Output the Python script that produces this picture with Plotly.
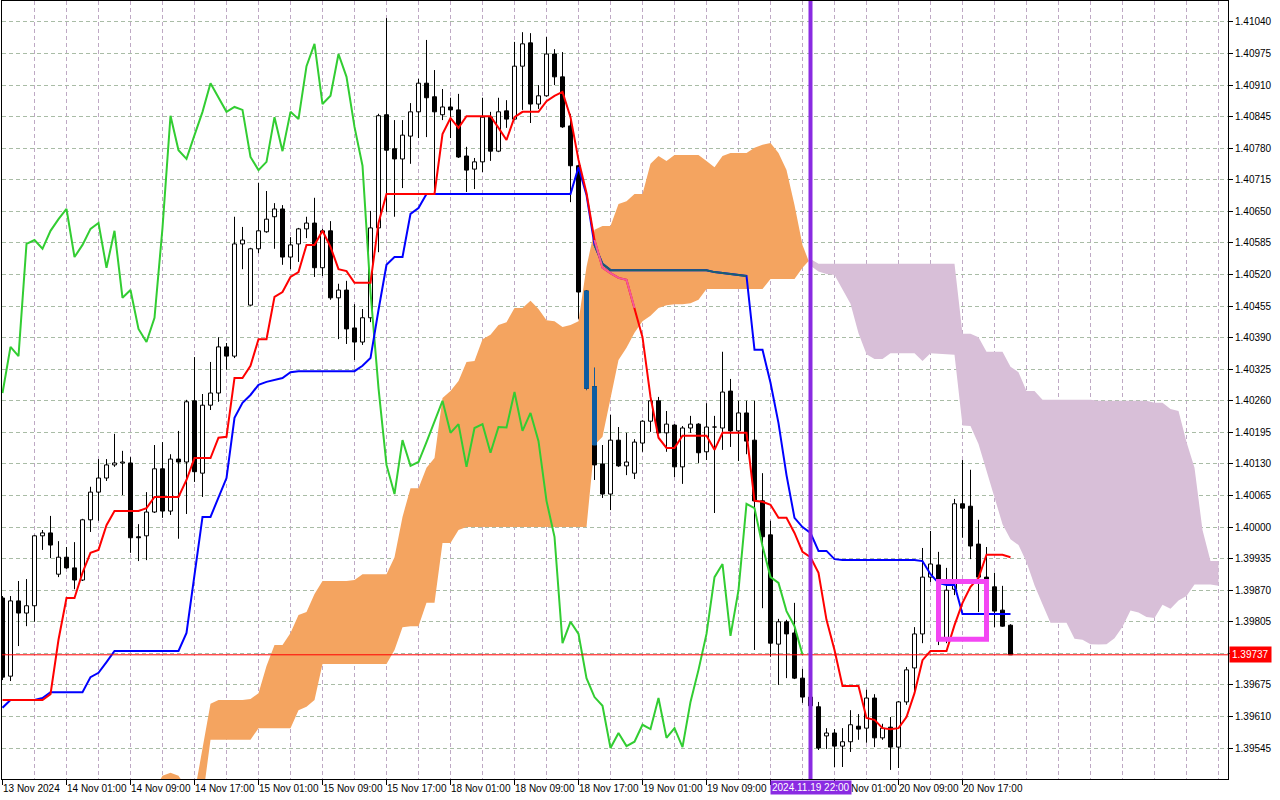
import plotly.graph_objects as go

# ─────────────────────────────────────────────
# DATA  (H1 bars, bar 0 = 13 Nov 2024 17:00)
# ─────────────────────────────────────────────
opens = [
    1.39854, 1.39693, 1.39848, 1.39823, 1.39838, 1.39982, 1.39988, 1.39903, 1.39938, 1.39916,
    1.39891, 1.40015, 1.40072, 1.40101, 1.40128, 1.40132, 1.40132, 1.39980, 1.39982, 1.40031,
    1.40120, 1.40033, 1.40140, 1.40134, 1.40260, 1.40111, 1.40251, 1.40276, 1.40371, 1.40352,
    1.40583, 1.40457, 1.40573, 1.40608, 1.40639, 1.40655, 1.40556, 1.40583, 1.40614, 1.40626,
    1.40534, 1.40610, 1.40472, 1.40488, 1.40410, 1.40381, 1.40431, 1.40616, 1.40849, 1.40779,
    1.40758, 1.40805, 1.40855, 1.40914, 1.40886, 1.40849, 1.40865, 1.40859, 1.40764, 1.40737,
    1.40752, 1.40844, 1.40774, 1.40857, 1.40840, 1.40949, 1.40997, 1.40871, 1.40888, 1.40974,
    1.40927, 1.40826, 1.40744, 1.40486, 1.40289, 1.40130, 1.40068, 1.40179, 1.40126, 1.40111,
    1.40173, 1.40218, 1.40260, 1.40194, 1.40210, 1.40124, 1.40204, 1.40212, 1.40155, 1.40206,
    1.40204, 1.40280, 1.40198, 1.40235, 1.40179, 1.40054, 1.39984, 1.39759, 1.39805, 1.39782,
    1.39689, 1.39650, 1.39630, 1.39570, 1.39576, 1.39549, 1.39558, 1.39590, 1.39586, 1.39648,
    1.39566, 1.39588, 1.39547, 1.39640, 1.39710, 1.39780, 1.39897, 1.39922, 1.39772, 1.39872,
    1.40048, 1.40043, 1.39965, 1.39897, 1.39877, 1.39829, 1.39798,
]
highs = [
    1.39858, 1.39858, 1.39889, 1.39893, 1.39984, 1.39994, 1.40023, 1.39971, 1.39959, 1.39969,
    1.40017, 1.40083, 1.40140, 1.40140, 1.40192, 1.40157, 1.40144, 1.40006, 1.40072, 1.40169,
    1.40175, 1.40150, 1.40198, 1.40262, 1.40350, 1.40274, 1.40340, 1.40391, 1.40379, 1.40639,
    1.40618, 1.40575, 1.40709, 1.40692, 1.40667, 1.40663, 1.40597, 1.40616, 1.40639, 1.40678,
    1.40614, 1.40630, 1.40501, 1.40507, 1.40459, 1.40449, 1.40651, 1.40851, 1.41048, 1.40838,
    1.40838, 1.40873, 1.40923, 1.41003, 1.40941, 1.40902, 1.40884, 1.40892, 1.40783, 1.40760,
    1.40884, 1.40855, 1.40884, 1.40879, 1.40999, 1.41019, 1.41017, 1.40910, 1.41009, 1.40984,
    1.40978, 1.40851, 1.40746, 1.40488, 1.40328, 1.40169, 1.40231, 1.40206, 1.40194, 1.40181,
    1.40220, 1.40268, 1.40268, 1.40239, 1.40212, 1.40208, 1.40229, 1.40214, 1.40255, 1.40229,
    1.40361, 1.40305, 1.40260, 1.40260, 1.40260, 1.40111, 1.40013, 1.39811, 1.39809, 1.39844,
    1.39708, 1.39665, 1.39640, 1.39586, 1.39584, 1.39586, 1.39623, 1.39615, 1.39665, 1.39656,
    1.39595, 1.39609, 1.39642, 1.39712, 1.39794, 1.39957, 1.39992, 1.39949, 1.39916, 1.40058,
    1.40138, 1.40118, 1.40015, 1.39959, 1.39906, 1.39879, 1.39800,
]
lows = [
    1.39685, 1.39683, 1.39755, 1.39796, 1.39805, 1.39953, 1.39936, 1.39897, 1.39914, 1.39872,
    1.39889, 1.39990, 1.40013, 1.40095, 1.40124, 1.40066, 1.39947, 1.39930, 1.39932, 1.40029,
    1.40019, 1.40025, 1.39976, 1.40027, 1.40093, 1.40062, 1.40241, 1.40258, 1.40324, 1.40348,
    1.40531, 1.40455, 1.40564, 1.40606, 1.40573, 1.40540, 1.40531, 1.40546, 1.40595, 1.40515,
    1.40517, 1.40468, 1.40387, 1.40377, 1.40344, 1.40375, 1.40422, 1.40566, 1.40649, 1.40639,
    1.40698, 1.40748, 1.40801, 1.40803, 1.40688, 1.40838, 1.40801, 1.40760, 1.40690, 1.40696,
    1.40731, 1.40754, 1.40772, 1.40822, 1.40838, 1.40859, 1.40832, 1.40861, 1.40886, 1.40910,
    1.40822, 1.40669, 1.40429, 1.40282, 1.40097, 1.40060, 1.40035, 1.40124, 1.40107, 1.40099,
    1.40155, 1.40196, 1.40192, 1.40155, 1.40103, 1.40089, 1.40194, 1.40132, 1.40138, 1.40029,
    1.40159, 1.40165, 1.40136, 1.40150, 1.39747, 1.39833, 1.39733, 1.39675, 1.39689, 1.39687,
    1.39638, 1.39619, 1.39541, 1.39543, 1.39506, 1.39506, 1.39537, 1.39562, 1.39556, 1.39547,
    1.39562, 1.39500, 1.39504, 1.39634, 1.39658, 1.39761, 1.39887, 1.39757, 1.39761, 1.39860,
    1.39978, 1.39934, 1.39825, 1.39813, 1.39794, 1.39795, 1.39737,
]
closes = [
    1.39691, 1.39848, 1.39823, 1.39838, 1.39982, 1.39988, 1.39963, 1.39938, 1.39916, 1.39891,
    1.40015, 1.40072, 1.40101, 1.40128, 1.40132, 1.40134, 1.39978, 1.39978, 1.40031, 1.40120,
    1.40033, 1.40140, 1.40134, 1.40258, 1.40114, 1.40251, 1.40276, 1.40371, 1.40352, 1.40583,
    1.40591, 1.40573, 1.40610, 1.40634, 1.40655, 1.40556, 1.40581, 1.40614, 1.40626, 1.40534,
    1.40610, 1.40472, 1.40488, 1.40408, 1.40381, 1.40431, 1.40616, 1.40847, 1.40776, 1.40758,
    1.40807, 1.40855, 1.40914, 1.40884, 1.40855, 1.40865, 1.40859, 1.40762, 1.40735, 1.40752,
    1.40844, 1.40774, 1.40855, 1.40840, 1.40949, 1.40995, 1.40871, 1.40888, 1.40974, 1.40927,
    1.40824, 1.40744, 1.40484, 1.40286, 1.40128, 1.40068, 1.40179, 1.40126, 1.40134, 1.40175,
    1.40218, 1.40260, 1.40194, 1.40212, 1.40124, 1.40204, 1.40212, 1.40153, 1.40206, 1.40205,
    1.40278, 1.40198, 1.40235, 1.40177, 1.40054, 1.39980, 1.39761, 1.39805, 1.39780, 1.39689,
    1.39650, 1.39632, 1.39545, 1.39576, 1.39549, 1.39558, 1.39593, 1.39584, 1.39648, 1.39566,
    1.39586, 1.39547, 1.39640, 1.39706, 1.39780, 1.39897, 1.39924, 1.39776, 1.39870, 1.40048,
    1.40039, 1.39961, 1.39897, 1.39885, 1.39827, 1.39796, 1.39737,
]

# Tenkan-sen (red) and Kijun-sen (blue), one value per bar
tenkan = [
    1.39644, 1.39644, 1.39644, 1.39644, 1.39644, 1.39644, 1.39656, 1.39768, 1.39854, 1.39854,
    1.39906, 1.39947, 1.39953, 1.40004, 1.40033, 1.40033, 1.40033, 1.40033, 1.40039, 1.40062,
    1.40062, 1.40062, 1.40062, 1.40097, 1.40142, 1.40142, 1.40142, 1.40184, 1.40186, 1.40307,
    1.40307, 1.40332, 1.40387, 1.40387, 1.40474, 1.40484, 1.40515, 1.40525, 1.40581, 1.40581,
    1.40610, 1.40577, 1.40531, 1.40527, 1.40503, 1.40503, 1.40503, 1.40626, 1.40686, 1.40686,
    1.40686, 1.40686, 1.40686, 1.40686, 1.40686, 1.40809, 1.40842, 1.40822, 1.40846, 1.40846,
    1.40846, 1.40846, 1.40822, 1.40797, 1.40844, 1.40855, 1.40855, 1.40855, 1.40877, 1.40888,
    1.40896, 1.40844, 1.40756, 1.40688, 1.40591, 1.40534, 1.40523, 1.40513, 1.40509, 1.40451,
    1.40391, 1.40268, 1.40184, 1.40163, 1.40163, 1.40188, 1.40188, 1.40188, 1.40188, 1.40159,
    1.40194, 1.40194, 1.40194, 1.40194, 1.40054, 1.40052, 1.40046, 1.40019, 1.40019, 1.39988,
    1.39949, 1.39938, 1.39906, 1.39809, 1.39747, 1.39673, 1.39673, 1.39673, 1.39607, 1.39603,
    1.39586, 1.39584, 1.39586, 1.39609, 1.39658, 1.39726, 1.39745, 1.39745, 1.39745, 1.39798,
    1.39844, 1.39877, 1.39895, 1.39943, 1.39943, 1.39943, 1.39938,
]
kijun = [
    1.39628, 1.39644, 1.39644, 1.39644, 1.39644, 1.39648, 1.39660, 1.39660, 1.39660, 1.39660,
    1.39660, 1.39691, 1.39700, 1.39722, 1.39745, 1.39745, 1.39745, 1.39745, 1.39745, 1.39745,
    1.39745, 1.39745, 1.39745, 1.39782, 1.39901, 1.40021, 1.40021, 1.40062, 1.40101, 1.40225,
    1.40256, 1.40272, 1.40293, 1.40299, 1.40303, 1.40307, 1.40319, 1.40321, 1.40321, 1.40321,
    1.40321, 1.40321, 1.40321, 1.40321, 1.40321, 1.40332, 1.40348, 1.40447, 1.40540, 1.40556,
    1.40556, 1.40645, 1.40657, 1.40686, 1.40686, 1.40686, 1.40686, 1.40686, 1.40686, 1.40686,
    1.40686, 1.40686, 1.40686, 1.40686, 1.40686, 1.40686, 1.40686, 1.40686, 1.40686, 1.40686,
    1.40686, 1.40686, 1.40741, 1.40684, 1.40581, 1.40542, 1.40529, 1.40529, 1.40529, 1.40529,
    1.40529, 1.40529, 1.40529, 1.40529, 1.40529, 1.40529, 1.40529, 1.40529, 1.40529, 1.40525,
    1.40523, 1.40521, 1.40519, 1.40517, 1.40365, 1.40365, 1.40297, 1.40214, 1.40107, 1.40019,
    1.40000, 1.39988, 1.39951, 1.39951, 1.39934, 1.39932, 1.39932, 1.39932, 1.39932, 1.39932,
    1.39932, 1.39932, 1.39932, 1.39932, 1.39932, 1.39930, 1.39903, 1.39885, 1.39881, 1.39881,
    1.39821, 1.39821, 1.39821, 1.39821, 1.39821, 1.39821, 1.39821,
]

# Senkou span A / B, drawn from bar 18 up to bar 152 (26 bars ahead)
cloud_start = 18
span_a = [
    1.39438, 1.39459, 1.39488, 1.39494, 1.39488, 1.39463, 1.39452, 1.39545, 1.39636, 1.39644,
    1.39644, 1.39644, 1.39644, 1.39646, 1.39658, 1.39714, 1.39757, 1.39757, 1.39782, 1.39819,
    1.39825, 1.39862, 1.39889, 1.39889, 1.39889, 1.39889, 1.39891, 1.39903, 1.39903, 1.39903,
    1.39903, 1.39938, 1.40021, 1.40080, 1.40080, 1.40122, 1.40142, 1.40266, 1.40280, 1.40301,
    1.40340, 1.40342, 1.40387, 1.40396, 1.40416, 1.40422, 1.40451, 1.40451, 1.40466, 1.40449,
    1.40426, 1.40424, 1.40412, 1.40416, 1.40424, 1.40536, 1.40612, 1.40620, 1.40620, 1.40665,
    1.40671, 1.40686, 1.40686, 1.40748, 1.40764, 1.40754, 1.40766, 1.40766, 1.40766, 1.40766,
    1.40754, 1.40741, 1.40764, 1.40770, 1.40770, 1.40770, 1.40781, 1.40787, 1.40791, 1.40770,
    1.40735, 1.40663, 1.40581, 1.40538, 1.40526, 1.40521, 1.40519, 1.40491, 1.40460, 1.40399,
    1.40356, 1.40346, 1.40346, 1.40358, 1.40358, 1.40358, 1.40358, 1.40342, 1.40358, 1.40357,
    1.40356, 1.40355, 1.40209, 1.40208, 1.40171, 1.40116, 1.40063, 1.40006, 1.39975, 1.39963,
    1.39928, 1.39880, 1.39841, 1.39803, 1.39803, 1.39803, 1.39770, 1.39768, 1.39759, 1.39758,
    1.39759, 1.39771, 1.39795, 1.39828, 1.39824, 1.39815, 1.39813, 1.39840, 1.39832, 1.39849,
    1.39858, 1.39882, 1.39882, 1.39882, 1.39879,
]
span_b = [
    1.39418, 1.39418, 1.39418, 1.39418, 1.39418, 1.39418, 1.39418, 1.39438, 1.39562, 1.39562,
    1.39562, 1.39562, 1.39562, 1.39562, 1.39586, 1.39586, 1.39586, 1.39586, 1.39586, 1.39623,
    1.39630, 1.39644, 1.39718, 1.39718, 1.39718, 1.39718, 1.39718, 1.39718, 1.39718, 1.39718,
    1.39718, 1.39747, 1.39794, 1.39796, 1.39796, 1.39844, 1.39844, 1.39967, 1.39967, 1.39994,
    1.40000, 1.40000, 1.40000, 1.40000, 1.40000, 1.40000, 1.40000, 1.40000, 1.40000, 1.40000,
    1.40000, 1.40000, 1.40000, 1.40000, 1.40000, 1.40000, 1.40169, 1.40186, 1.40268, 1.40344,
    1.40369, 1.40400, 1.40424, 1.40435, 1.40451, 1.40457, 1.40459, 1.40459, 1.40461, 1.40468,
    1.40490, 1.40490, 1.40490, 1.40490, 1.40490, 1.40490, 1.40490, 1.40490, 1.40511, 1.40511,
    1.40511, 1.40511, 1.40534, 1.40552, 1.40542, 1.40542, 1.40542, 1.40542, 1.40542, 1.40542,
    1.40542, 1.40542, 1.40542, 1.40542, 1.40542, 1.40542, 1.40542, 1.40542, 1.40542, 1.40542,
    1.40542, 1.40542, 1.40398, 1.40398, 1.40391, 1.40361, 1.40361, 1.40361, 1.40330, 1.40319,
    1.40280, 1.40280, 1.40262, 1.40262, 1.40262, 1.40262, 1.40262, 1.40262, 1.40262, 1.40260,
    1.40260, 1.40260, 1.40260, 1.40260, 1.40260, 1.40260, 1.40256, 1.40256, 1.40243, 1.40239,
    1.40175, 1.40122, 1.39994, 1.39930, 1.39930,
]

chikou_shift = 26

# time axis: labels every 8 bars; the one under the marker label is hidden there,
# the next one only shows its tail to the right of the marker label
label_bars = [0, 8, 16, 24, 32, 40, 48, 56, 64, 72, 80, 88, 104, 112, 120]
time_labels = [
    "13 Nov 2024", "14 Nov 01:00", "14 Nov 09:00", "14 Nov 17:00",
    "15 Nov 01:00", "15 Nov 09:00", "15 Nov 17:00", "18 Nov 01:00",
    "18 Nov 09:00", "18 Nov 17:00", "19 Nov 01:00", "19 Nov 09:00",
    "Nov 01:00", "20 Nov 09:00", "20 Nov 17:00",
]
tick_bars = [0, 8, 16, 24, 32, 40, 48, 56, 64, 72, 80, 88, 96, 104, 112, 120]

price_ticks = [
    1.39545, 1.39610, 1.39675, 1.39740, 1.39805, 1.39870, 1.39935, 1.40000,
    1.40065, 1.40130, 1.40195, 1.40260, 1.40325, 1.40390, 1.40455, 1.40520,
    1.40585, 1.40650, 1.40715, 1.40780, 1.40845, 1.40910, 1.40975, 1.41040,
]

price_now = 1.39737
vline_bar = 101
vline_text = "2024.11.19 22:00"
box_bars = [117, 123]
box_prices = [1.39769, 1.39888]

# ─────────────────────────────────────────────
# STYLE
# ─────────────────────────────────────────────
FONT = "Liberation Sans, Arial, sans-serif"
ORANGE = "#F4A460"
THISTLE = "#D8BFD8"
IN_CLOUD_CANDLE = "#0E5CA0"
IN_CLOUD_TENKAN = "#F25A9A"
IN_CLOUD_KIJUN = "#1A6070"
PURPLE = "#8A2BE2"
HALF_W = 0.25

n = len(closes)
bars = list(range(n))


def cloud_range(i):
    k = i - cloud_start
    if 0 <= k < len(span_a):
        return min(span_a[k], span_b[k]), max(span_a[k], span_b[k])
    return None


fig = go.Figure()

# ── cloud (split where the spans cross) ──
xs = list(range(cloud_start, cloud_start + len(span_a)))
runs = []
cur = None
for k in range(len(xs)):
    d = span_a[k] - span_b[k]
    up = d >= 0
    if cur is None:
        cur = [up, [xs[k]], [span_a[k]], [span_b[k]]]
        continue
    if up != cur[0]:
        d0 = span_a[k - 1] - span_b[k - 1]
        t = d0 / (d0 - d)
        xc = xs[k - 1] + t
        yc = span_a[k - 1] + t * (span_a[k] - span_a[k - 1])
        cur[1].append(xc)
        cur[2].append(yc)
        cur[3].append(yc)
        runs.append(cur)
        cur = [up, [xc], [yc], [yc]]
    cur[1].append(xs[k])
    cur[2].append(span_a[k])
    cur[3].append(span_b[k])
runs.append(cur)

for up, rx, ra, rb in runs:
    fig.add_trace(go.Scatter(
        x=rx + rx[::-1], y=ra + rb[::-1],
        mode="lines", fill="toself",
        fillcolor=ORANGE if up else THISTLE,
        line=dict(width=0), hoverinfo="skip",
    ))

# ── candles: wicks first, bodies on top ──
wx, wy = [], []
bx, by = [], []          # wick parts inside the cloud
for i in bars:
    wx += [i, i, None]
    wy += [lows[i], highs[i], None]
    cr = cloud_range(i)
    if cr:
        top, bot = min(highs[i], cr[1]), max(lows[i], cr[0])
        if top > bot:
            bx += [i, i, None]
            by += [bot, top, None]
fig.add_trace(go.Scatter(x=wx, y=wy, mode="lines",
                         line=dict(color="black", width=1), hoverinfo="skip"))
fig.add_trace(go.Scatter(x=bx, y=by, mode="lines",
                         line=dict(color=IN_CLOUD_CANDLE, width=1), hoverinfo="skip"))


def body_trace(idx, fill, line_color, lo_list, hi_list):
    px_, py_ = [], []
    for i, lo, hi in zip(idx, lo_list, hi_list):
        px_ += [i - HALF_W, i + HALF_W, i + HALF_W, i - HALF_W, i - HALF_W, None]
        py_ += [hi, hi, lo, lo, hi, None]
    return go.Scatter(x=px_, y=py_, mode="lines", fill="toself", fillcolor=fill,
                      line=dict(color=line_color, width=1), hoverinfo="skip")


up_idx = [i for i in bars if closes[i] >= opens[i]]
dn_idx = [i for i in bars if closes[i] < opens[i]]
fig.add_trace(body_trace(up_idx, "white", "black",
                         [opens[i] for i in up_idx], [closes[i] for i in up_idx]))
fig.add_trace(body_trace(dn_idx, "black", "black",
                         [closes[i] for i in dn_idx], [opens[i] for i in dn_idx]))

cl_idx, cl_lo, cl_hi = [], [], []
for i in bars:
    cr = cloud_range(i)
    if not cr:
        continue
    top = min(max(opens[i], closes[i]), cr[1])
    bot = max(min(opens[i], closes[i]), cr[0])
    if top > bot:
        cl_idx.append(i)
        cl_lo.append(bot)
        cl_hi.append(top)
fig.add_trace(body_trace(cl_idx, IN_CLOUD_CANDLE, IN_CLOUD_CANDLE, cl_lo, cl_hi))

# ── Chikou, Kijun, Tenkan ──
fig.add_trace(go.Scatter(x=bars[:n - chikou_shift], y=closes[chikou_shift:], mode="lines",
                         line=dict(color="#32CD32", width=2), hoverinfo="skip"))
fig.add_trace(go.Scatter(x=bars, y=kijun, mode="lines",
                         line=dict(color="#0000FF", width=2), hoverinfo="skip"))
fig.add_trace(go.Scatter(x=bars, y=tenkan, mode="lines",
                         line=dict(color="#FF0000", width=2), hoverinfo="skip"))


def inside(series):
    out = []
    for i in bars:
        cr = cloud_range(i)
        out.append(series[i] if cr and cr[0] <= series[i] <= cr[1] else None)
    return out


fig.add_trace(go.Scatter(x=bars, y=inside(kijun), mode="lines",
                         line=dict(color=IN_CLOUD_KIJUN, width=2), hoverinfo="skip"))
fig.add_trace(go.Scatter(x=bars, y=inside(tenkan), mode="lines",
                         line=dict(color=IN_CLOUD_TENKAN, width=2), hoverinfo="skip"))

# ── current price line, vertical marker, rectangle ──
fig.add_shape(type="line", xref="paper", x0=0, x1=1, y0=price_now, y1=price_now,
              line=dict(color="#FF0000", width=1))
fig.add_shape(type="line", x0=vline_bar, x1=vline_bar, yref="paper", y0=0, y1=1,
              line=dict(color=PURPLE, width=4))
fig.add_shape(type="rect", x0=box_bars[0], x1=box_bars[1], y0=box_prices[0], y1=box_prices[1],
              line=dict(color="#F346F3", width=5))

# ── time axis labels (left-aligned at their tick, MT5 style) ──
for b, txt in zip(label_bars, time_labels):
    shift = -2
    if b == 104:
        shift = 14          # tail of "20 Nov 01:00" right of the marker label
    fig.add_annotation(x=b, y=0, yref="paper", text=txt, showarrow=False,
                       xanchor="left", yanchor="top", yshift=-2, xshift=shift,
                       font=dict(family=FONT, size=10, color="black"))

fig.add_annotation(x=vline_bar, y=0, yref="paper", text=vline_text, showarrow=False,
                   xanchor="center", yanchor="top", yshift=-1, bgcolor=PURPLE,
                   borderpad=1, font=dict(family=FONT, size=10, color="white"))
fig.add_annotation(x=1, xref="paper", y=price_now, text=f"{price_now:.5f}", showarrow=False,
                   xanchor="left", yanchor="middle", xshift=1, bgcolor="#FF0000",
                   borderpad=2, font=dict(family=FONT, size=10, color="white"))

# the price tag covers the tick label at the same level
price_text = ["" if abs(v - price_now) < 0.0002 else f"{v:.5f}" for v in price_ticks]

fig.update_layout(
    width=1280, height=800, autosize=False,
    margin=dict(l=2, r=52, t=1, b=21, pad=0),
    paper_bgcolor="white", plot_bgcolor="white",
    showlegend=False, hovermode=False,
    xaxis=dict(
        range=[-0.0625, 153.1875],
        tickmode="array", tickvals=tick_bars, ticktext=[""] * len(tick_bars),
        ticks="outside", ticklen=5, tickcolor="black",
        showgrid=True, gridcolor="#BEA9C4", griddash="4px,3px", gridwidth=1,
        minor=dict(tickmode="linear", tick0=0, dtick=4, showgrid=True,
                   gridcolor="#BEA9C4", griddash="4px,3px", gridwidth=1),
        showline=True, mirror=True, linecolor="black", linewidth=1,
        zeroline=False, fixedrange=True,
    ),
    yaxis=dict(
        range=[1.394813, 1.410832], side="right",
        tickmode="array", tickvals=price_ticks, ticktext=price_text,
        ticks="outside", ticklen=4, tickcolor="black",
        tickfont=dict(family=FONT, size=10, color="black"),
        showgrid=True, gridcolor="#A9BCA6", griddash="4px,3px", gridwidth=1,
        showline=True, mirror=True, linecolor="black", linewidth=1,
        zeroline=False, fixedrange=True,
    ),
)

fig.write_html("out.html", config={"displayModeBar": False},
               post_script="document.body.style.margin='0';")
